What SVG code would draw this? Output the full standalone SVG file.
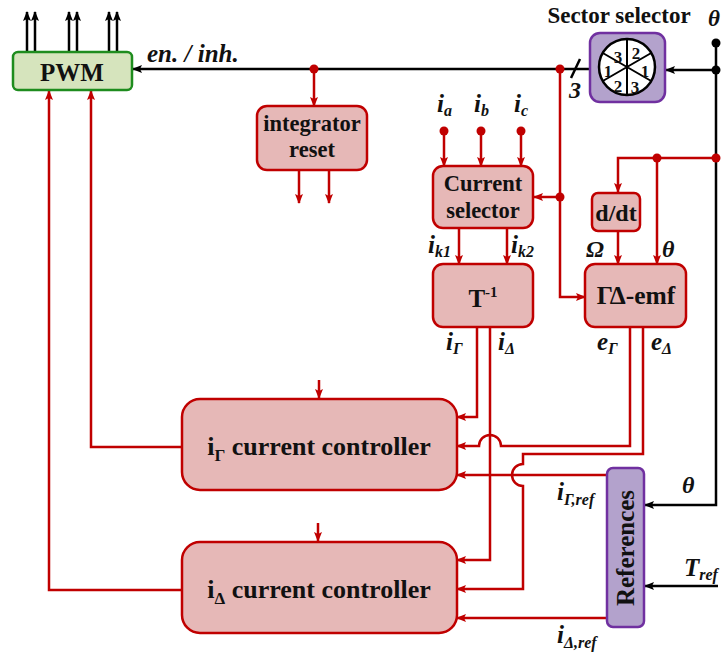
<svg xmlns="http://www.w3.org/2000/svg" width="721" height="659" viewBox="0 0 721 659">
<style>
.node{fill:#e6b8b7;stroke:#c00000;stroke-width:2.5}
.pur{fill:#b3a2cc;stroke:#7030a0;stroke-width:2.5}
.r{fill:none;stroke:#c00000;stroke-width:2.5}
.k{fill:none;stroke:#000;stroke-width:2.5}
.t{font-family:"Liberation Serif","Times New Roman",serif;font-weight:bold;fill:#111}
.c{text-anchor:middle}
.it{font-style:italic}
</style>
<defs>
<marker id="ar" markerUnits="userSpaceOnUse" markerWidth="10" markerHeight="8" refX="9" refY="4" orient="auto"><path d="M0,0 L10,4 L0,8 L2,4 z" fill="#c00000"/></marker>
<marker id="ak" markerUnits="userSpaceOnUse" markerWidth="10" markerHeight="8" refX="9" refY="4" orient="auto"><path d="M0,0 L10,4 L0,8 L2,4 z" fill="#000"/></marker>
</defs>

<g id="connectors">
  <!-- PWM outputs -->
  <g class="k" marker-end="url(#ak)">
    <path d="M27,52 V12"/><path d="M35,52 V12"/>
    <path d="M69,52 V12"/><path d="M77,52 V12"/>
    <path d="M109,52 V12"/><path d="M117,52 V12"/>
  </g>
  <!-- black theta line -->
  <path class="k" d="M716,43 V505 H645" marker-end="url(#ak)"/>
  <path class="k" d="M716,70 H666" marker-end="url(#ak)"/>
  <path class="k" d="M590,69 H133" marker-end="url(#ak)"/>
  <path class="k" d="M580,59 L571,78" stroke-width="1.5"/>
  <path class="k" d="M718,586 H645" marker-end="url(#ak)"/>
  <!-- red lines -->
  <path class="r" d="M314,69 V106" marker-end="url(#ar)"/>
  <path class="r" d="M299,170 V203" marker-end="url(#ar)"/>
  <path class="r" d="M329,170 V203" marker-end="url(#ar)"/>
  <path class="r" d="M444,131 V166" marker-end="url(#ar)"/>
  <path class="r" d="M481,131 V166" marker-end="url(#ar)"/>
  <path class="r" d="M521,131 V166" marker-end="url(#ar)"/>
  <path class="r" d="M560,69 V297 H585" marker-end="url(#ar)"/>
  <path class="r" d="M560,197 H534" marker-end="url(#ar)"/>
  <path class="r" d="M459,228 V264" marker-end="url(#ar)"/>
  <path class="r" d="M507,228 V264" marker-end="url(#ar)"/>
  <path class="r" d="M716,158 H618 V192" marker-end="url(#ar)"/>
  <path class="r" d="M657,158 V264" marker-end="url(#ar)"/>
  <path class="r" d="M618,231 V264" marker-end="url(#ar)"/>
  <path class="r" d="M477,327 V417 H457" marker-end="url(#ar)"/>
  <path class="r" d="M490,327 V560 H457" marker-end="url(#ar)"/>
  <path class="r" d="M630,327 V446 H501 A11 11 0 0 0 479 446 H457" marker-end="url(#ar)"/>
  <path class="r" d="M643,327 V454 H523 V464 A11 11 0 0 0 523 486 V589 H457" marker-end="url(#ar)"/>
  <path class="r" d="M607,475 H457" marker-end="url(#ar)"/>
  <path class="r" d="M607,618 H457" marker-end="url(#ar)"/>
  <path class="r" d="M319,380 V398" marker-end="url(#ar)"/>
  <path class="r" d="M318,523 V541" marker-end="url(#ar)"/>
  <path class="r" d="M182,447 H91 V91" marker-end="url(#ar)"/>
  <path class="r" d="M182,590 H49 V91" marker-end="url(#ar)"/>
  <!-- dots -->
  <g fill="#000">
    <circle cx="716" cy="43" r="4.5"/><circle cx="716" cy="70" r="4.5"/>
  </g>
  <g fill="#c00000">
    <circle cx="560" cy="69" r="4.5"/><circle cx="314" cy="69" r="4.5"/>
    <circle cx="444" cy="131" r="4.5"/><circle cx="481" cy="131" r="4.5"/><circle cx="521" cy="131" r="4.5"/>
    <circle cx="560" cy="197" r="4.5"/><circle cx="657" cy="158" r="4.5"/><circle cx="716" cy="158" r="4.5"/>
  </g>
</g>

<g id="pwm">
  <rect x="13" y="52" width="119" height="38" rx="5" fill="#d6e4bd" stroke="#1e8c1e" stroke-width="2.5"/>
  <text class="t c" x="72" y="81" font-size="25">PWM</text>
</g>
<g id="sector-selector">
  <rect class="pur" x="590" y="33" width="75" height="69" rx="10"/>
  <circle cx="627" cy="67" r="28" fill="#fff" stroke="#000" stroke-width="2.5"/>
  <path d="M627,39 V95 M602.8,53 L651.2,81 M602.8,81 L651.2,53" stroke="#000" stroke-width="2"/>
  <g class="t c" font-size="17">
    <text x="618" y="63">3</text><text x="636" y="59">2</text>
    <text x="608" y="77">1</text><text x="645" y="77">1</text>
    <text x="618" y="92">2</text><text x="635" y="93">3</text>
  </g>
  <text class="t c" x="619" y="23" font-size="23">Sector selector</text>
</g>
<g id="integrator-reset">
  <rect class="node" x="257" y="106" width="110" height="64" rx="10"/>
  <text class="t c" x="312" y="131" font-size="22.5">integrator</text>
  <text class="t c" x="312" y="157" font-size="22.5">reset</text>
</g>
<g id="current-selector">
  <rect class="node" x="433" y="166" width="100" height="62" rx="10"/>
  <text class="t c" x="483" y="191" font-size="22.5">Current</text>
  <text class="t c" x="483" y="218" font-size="22.5">selector</text>
</g>
<g id="t-inverse">
  <rect class="node" x="433" y="264" width="100" height="63" rx="10"/>
  <text class="t c" x="483" y="307" font-size="25">T<tspan font-size="15" dy="-10">-1</tspan></text>
</g>
<g id="ddt">
  <rect class="node" x="592" y="193" width="48" height="38" rx="6"/>
  <text class="t c" x="616" y="221" font-size="24">d/dt</text>
</g>
<g id="emf">
  <rect class="node" x="585" y="264" width="101" height="63" rx="10"/>
  <text class="t c" x="636" y="304" font-size="25.5">ΓΔ-emf</text>
</g>
<g id="ig-controller">
  <rect class="node" x="182" y="399" width="275" height="91" rx="18"/>
  <text class="t c" x="319" y="455" font-size="26">i<tspan font-size="17" dy="6">Γ</tspan><tspan dy="-6"> current controller</tspan></text>
</g>
<g id="id-controller">
  <rect class="node" x="182" y="542" width="275" height="91" rx="18"/>
  <text class="t c" x="319" y="598" font-size="26">i<tspan font-size="17" dy="6">Δ</tspan><tspan dy="-6"> current controller</tspan></text>
</g>
<g id="references">
  <rect class="pur" x="607" y="468" width="37" height="159" rx="6"/>
  <text class="t c" x="625" y="557" font-size="25" transform="rotate(-90 625 548)">References</text>
</g>

<g id="labels" class="t it">
  <text x="147" y="62" font-size="25">en. / inh.</text>
  <text x="569" y="98" font-size="24">3</text>
  <text x="708" y="26" font-size="23">θ</text>
  <text x="437" y="112" font-size="25">i<tspan font-size="16" dy="4">a</tspan></text>
  <text x="474" y="112" font-size="25">i<tspan font-size="16" dy="4">b</tspan></text>
  <text x="514" y="112" font-size="25">i<tspan font-size="16" dy="4">c</tspan></text>
  <text x="428" y="253" font-size="25">i<tspan font-size="16" dy="4">k1</tspan></text>
  <text x="511" y="253" font-size="25">i<tspan font-size="16" dy="4">k2</tspan></text>
  <text x="586" y="257" font-size="24">Ω</text>
  <text x="662" y="257" font-size="24">θ</text>
  <text x="446" y="350" font-size="25">i<tspan font-size="16" dy="4">Γ</tspan></text>
  <text x="498" y="350" font-size="25">i<tspan font-size="16" dy="4">Δ</tspan></text>
  <text x="597" y="350" font-size="25">e<tspan font-size="16" dy="4">Γ</tspan></text>
  <text x="651" y="350" font-size="25">e<tspan font-size="16" dy="4">Δ</tspan></text>
  <text x="557" y="500" font-size="25">i<tspan font-size="16" dy="5">Γ,ref</tspan></text>
  <text x="557" y="643" font-size="25">i<tspan font-size="16" dy="5">Δ,ref</tspan></text>
  <text x="682" y="493" font-size="24">θ</text>
  <text x="684" y="576" font-size="25">T<tspan font-size="16" dy="4">ref</tspan></text>
</g>
</svg>
